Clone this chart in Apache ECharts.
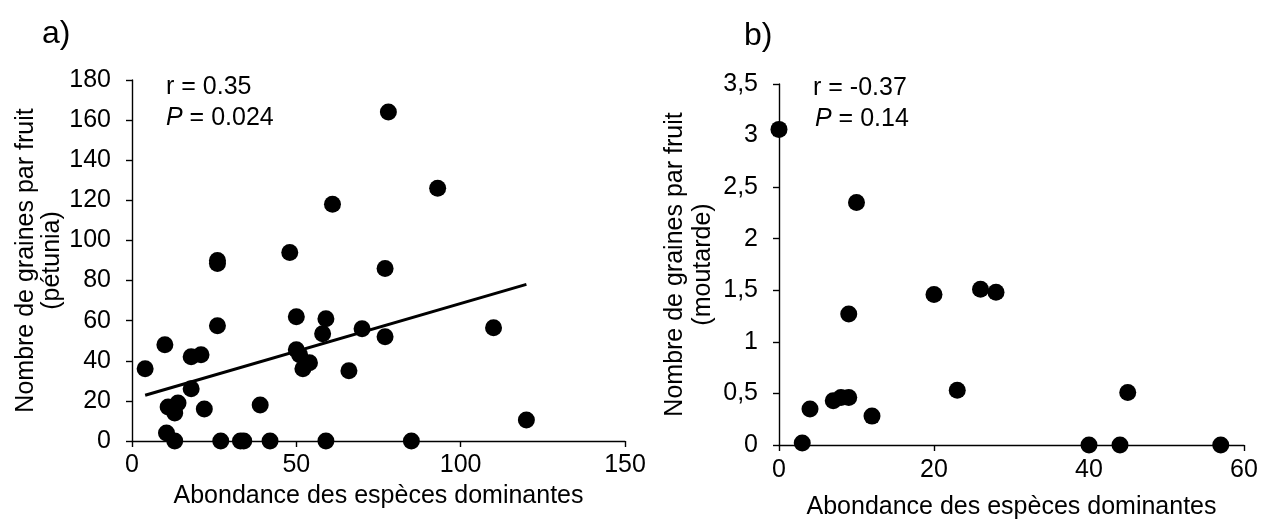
<!DOCTYPE html>
<html>
<head>
<meta charset="utf-8">
<script src="https://cdn.jsdelivr.net/npm/echarts@6/dist/echarts.min.js"></script>
<style>
  html, body { margin: 0; padding: 0; background: #fff; }
  #chart { width: 1268px; height: 520px; }
</style>
</head>
<body>
<div id="chart"></div>
<script>
// Panel a: pétunia — abundance of dominant species vs seeds per fruit
const petuniaAbundance = [78, 61, 48, 26, 26, 77, 10, 4, 18, 21, 26, 18, 11, 14, 13, 22, 10.5, 13, 27, 33, 34, 42, 59, 85, 39, 50, 59, 58, 70, 77, 50, 51, 54, 52, 66, 93, 110, 120];
const petuniaSeeds     = [164, 118, 94, 90, 88.5, 86, 48, 36, 42, 43, 57.5, 26, 17, 19, 14, 16, 4, 0, 0, 0, 0, 0, 0, 0, 18, 62, 61, 53.5, 56, 52, 45.5, 43, 39, 36, 35, 126, 56.5, 10.5];
// Fitted regression line end points for panel a
const trendAbundance = [4, 120];
const trendSeeds     = [22.8, 78.1];

// Panel b: moutarde
const moutardeAbundance = [0, 10, 9, 20, 26, 28, 4, 7, 8, 9, 12, 3, 23, 45, 40, 44, 57];
const moutardeSeeds     = [3.06, 2.35, 1.27, 1.46, 1.51, 1.48, 0.35, 0.43, 0.46, 0.46, 0.28, 0.02, 0.53, 0.51, 0, 0, 0];

// Tick labels for panel b's y axis (French decimal comma)
const moutardeYTicks = ['0', '0,5', '1', '1,5', '2', '2,5', '3', '3,5'];

const FONT = 'Liberation Sans, Arial, Helvetica, sans-serif';
const TXT = '#000';
const FS = 25;

const zip = (xs, ys) => xs.map((x, i) => [x, ys[i]]);

const chart = echarts.init(document.getElementById('chart'), null, { renderer: 'canvas' });

const axisCommon = {
  axisLine: { show: true, onZero: false, lineStyle: { color: '#000', width: 1.4 } },
  axisTick: { show: true, inside: false, length: 6, lineStyle: { color: '#000', width: 1.4 } },
  splitLine: { show: false }
};

const labelStyle = { fontFamily: FONT, fontSize: FS, color: TXT };
const nameStyle = (lh) => ({ fontFamily: FONT, fontSize: FS, color: TXT, lineHeight: lh });

chart.setOption({
  animation: false,
  backgroundColor: '#fff',
  grid: [
    { left: 132, top: 80, width: 493, height: 361, containLabel: false, outerBoundsMode: 'none' },
    { left: 779, top: 84, width: 465, height: 361, containLabel: false, outerBoundsMode: 'none' }
  ],
  xAxis: [
    Object.assign({}, axisCommon, {
      gridIndex: 0, type: 'value', min: 0, max: 150, interval: 50,
      axisLabel: Object.assign({ margin: 12 }, labelStyle),
      name: 'Abondance des espèces dominantes', nameLocation: 'middle', nameGap: 42,
      nameTextStyle: nameStyle(26)
    }),
    Object.assign({}, axisCommon, {
      gridIndex: 1, type: 'value', min: 0, max: 60, interval: 20,
      axisLabel: Object.assign({ margin: 13 }, labelStyle),
      name: 'Abondance des espèces dominantes', nameLocation: 'middle', nameGap: 49,
      nameTextStyle: nameStyle(26)
    })
  ],
  yAxis: [
    Object.assign({}, axisCommon, {
      gridIndex: 0, type: 'value', min: 0, max: 180, interval: 20,
      axisLabel: Object.assign({ margin: 21 }, labelStyle),
      name: 'Nombre de graines par fruit\n(pétunia)', nameLocation: 'middle', nameRotate: 90, nameGap: 66,
      nameTextStyle: nameStyle(26)
    }),
    Object.assign({}, axisCommon, {
      gridIndex: 1, type: 'value', min: 0, max: 3.5, interval: 0.5,
      axisLabel: Object.assign({ margin: 21, formatter: (v) => moutardeYTicks[Math.round(v / 0.5)] }, labelStyle),
      name: 'Nombre de graines par fruit\n(moutarde)', nameLocation: 'middle', nameRotate: 90, nameGap: 62,
      nameTextStyle: nameStyle(28)
    })
  ],
  series: [
    {
      type: 'line', xAxisIndex: 0, yAxisIndex: 0,
      data: zip(trendAbundance, trendSeeds),
      symbol: 'none', lineStyle: { color: '#000', width: 3 }, z: 3, silent: true
    },
    {
      type: 'scatter', xAxisIndex: 0, yAxisIndex: 0,
      data: zip(petuniaAbundance, petuniaSeeds),
      symbol: 'circle', symbolSize: 17, itemStyle: { color: '#000', opacity: 1 }, clip: false, z: 4
    },
    {
      type: 'scatter', xAxisIndex: 1, yAxisIndex: 1,
      data: zip(moutardeAbundance, moutardeSeeds),
      symbol: 'circle', symbolSize: 17, itemStyle: { color: '#000', opacity: 1 }, clip: false, z: 4
    }
  ],
  graphic: [
    { type: 'text', left: 42, top: 18, style: { text: 'a)', font: '32px ' + FONT, fill: TXT } },
    { type: 'text', left: 744, top: 20, style: { text: 'b)', font: '32px ' + FONT, fill: TXT } },
    { type: 'text', left: 166, top: 75, style: { text: 'r = 0.35', font: FS + 'px ' + FONT, fill: TXT } },
    { type: 'text', left: 166, top: 106, style: {
        text: '{i|P} = 0.024', font: FS + 'px ' + FONT, fill: TXT,
        rich: { i: { fontStyle: 'italic', fontFamily: FONT, fontSize: FS, fill: TXT } } } },
    { type: 'text', left: 813, top: 76, style: { text: 'r = -0.37', font: FS + 'px ' + FONT, fill: TXT } },
    { type: 'text', left: 815, top: 107, style: {
        text: '{i|P} = 0.14', font: FS + 'px ' + FONT, fill: TXT,
        rich: { i: { fontStyle: 'italic', fontFamily: FONT, fontSize: FS, fill: TXT } } } }
  ]
});
</script>
</body>
</html>
